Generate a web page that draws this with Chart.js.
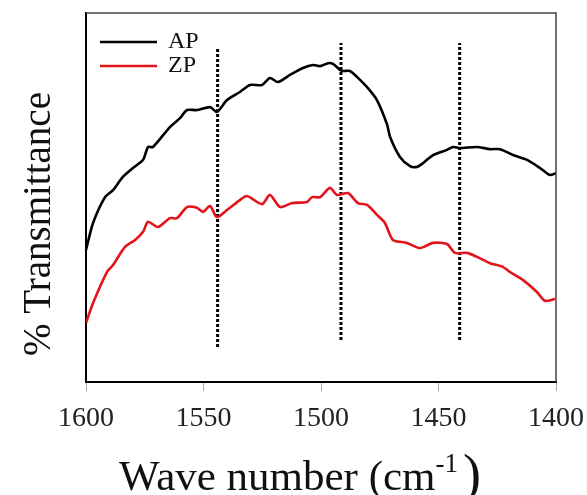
<!DOCTYPE html>
<html>
<head>
<meta charset="utf-8">
<script src="https://cdn.jsdelivr.net/npm/chart.js@4.4.1/dist/chart.umd.min.js"></script>
<style>
  html, body { margin: 0; padding: 0; background: #fff; }
  #wrap { width: 587px; height: 495px; position: relative; }
</style>
</head>
<body>
<div id="wrap"><canvas id="ftir"></canvas></div>
<script>
// wave numbers (cm-1) and transmittance (arbitrary %, plot height = 100)
const apWave = [1600, 1597, 1591.9, 1588.5, 1584.3, 1580, 1575.7, 1573.6, 1571.5, 1564.3, 1560, 1557, 1552.8, 1547.2, 1544.3, 1540, 1534.5, 1530.2, 1525.1, 1521.7, 1518.3, 1513.2, 1507.7, 1503.4, 1500.4, 1497, 1494.9, 1491.9, 1490.6, 1487.7, 1484.7, 1480.4, 1476.2, 1471.9, 1470.6, 1466.4, 1462.1, 1459.1, 1456.6, 1452.3, 1446.4, 1443.8, 1440.9, 1433.6, 1428.1, 1423.8, 1418.3, 1412.3, 1406.8, 1402.6, 1400];
const apT = [35.8, 43.1, 50.1, 52.0, 55.6, 58.0, 60.2, 63.7, 63.7, 69.1, 71.5, 73.7, 73.7, 74.5, 73.2, 76.4, 78.6, 80.5, 80.5, 82.4, 81.3, 83.2, 85.1, 85.9, 85.6, 86.4, 86.2, 84.6, 84.3, 84.3, 82.7, 79.9, 76.4, 69.8, 66.4, 61.0, 58.5, 58.3, 59.3, 61.5, 62.9, 63.7, 63.4, 63.7, 63.1, 63.1, 61.5, 60.2, 58.0, 56.1, 56.6];

const zpWave = [1600, 1597, 1591.1, 1588.5, 1583.4, 1579.1, 1575.7, 1573.6, 1569.4, 1564.3, 1561.3, 1557, 1552.8, 1550.2, 1547.2, 1544.3, 1540, 1534.5, 1531.5, 1525.1, 1521.7, 1517.4, 1512.3, 1506, 1503.8, 1500.4, 1496.2, 1493.2, 1488.5, 1484.3, 1480.4, 1476.2, 1472.8, 1469.4, 1463.4, 1457.9, 1452.3, 1446.4, 1443, 1437.9, 1433.6, 1428.1, 1422.6, 1419.6, 1414, 1408.1, 1404.7, 1400.4];
const zpT = [16.0, 21.4, 29.8, 31.7, 36.6, 38.5, 40.7, 43.4, 42.0, 44.4, 44.4, 47.4, 47.2, 46.1, 47.7, 44.7, 46.6, 49.3, 50.4, 48.2, 50.7, 47.4, 48.5, 48.8, 50.1, 50.1, 52.6, 50.7, 51.2, 48.5, 48.0, 45.3, 43.1, 38.5, 37.7, 36.3, 37.7, 37.4, 35.0, 35.0, 33.9, 32.2, 31.2, 29.8, 27.6, 24.4, 22.0, 22.5];

// dotted marker lines
const markerWave = [1544, 1491.5, 1441];
const markerTop = [90.5, 91.9, 91.9];
const markerBottom = [9.5, 11.4, 11.4];

const xTicks = [1600, 1550, 1500, 1450, 1400];

const SERIF = "'Liberation Serif', 'Times New Roman', serif";
const RED = '#e3141b';

function toPoints(xs, ys) {
    return xs.map((x, i) => ({ x: x, y: ys[i] }));
}

const datasets = [
    {
        label: 'AP', data: toPoints(apWave, apT),
        borderColor: '#000', borderWidth: 2.6, pointRadius: 0, tension: 0.25
    },
    {
        label: 'ZP', data: toPoints(zpWave, zpT),
        borderColor: RED, borderWidth: 2.6, pointRadius: 0, tension: 0.25
    }
];
markerWave.forEach((w, i) => {
    datasets.push({
        label: 'marker', data: [{ x: w, y: markerBottom[i] }, { x: w, y: markerTop[i] }],
        borderColor: '#000', borderWidth: 3, borderDash: [3, 2], pointRadius: 0, borderCapStyle: 'butt'
    });
});

// frame (top/right), legend and axis titles
const decorations = {
    id: 'decorations',
    afterDraw(chart) {
        const ctx = chart.ctx;
        const a = chart.chartArea;
        ctx.save();
        ctx.strokeStyle = '#444';
        ctx.lineWidth = 1.5;
        ctx.beginPath();
        ctx.moveTo(a.left, a.top);
        ctx.lineTo(a.right, a.top);
        ctx.lineTo(a.right, a.bottom);
        ctx.stroke();

        // legend
        const items = chart.data.datasets.filter(d => d.label !== 'marker');
        items.forEach((d, i) => {
            const y = 42 + i * 24;
            ctx.strokeStyle = d.borderColor;
            ctx.lineWidth = 2.4;
            ctx.beginPath();
            ctx.moveTo(100, y);
            ctx.lineTo(157, y);
            ctx.stroke();
            ctx.fillStyle = '#111';
            ctx.font = '24px ' + SERIF;
            ctx.textBaseline = 'alphabetic';
            ctx.textAlign = 'left';
            ctx.fillText(d.label, 168, y + 6);
        });

        // y title
        ctx.save();
        ctx.translate(50, 224);
        ctx.rotate(-Math.PI / 2);
        ctx.font = '39px ' + SERIF;
        ctx.textAlign = 'center';
        ctx.textBaseline = 'alphabetic';
        ctx.fillStyle = '#111';
        ctx.fillText('% Transmittance', 0, 0);
        ctx.restore();

        // x title with superscript
        ctx.fillStyle = '#111';
        ctx.textAlign = 'left';
        ctx.textBaseline = 'alphabetic';
        let x = 119;
        const base = 490;
        ctx.font = '43px ' + SERIF;
        const t1 = 'Wave number (cm';
        ctx.fillText(t1, x, base);
        x += ctx.measureText(t1).width;
        ctx.font = '27px ' + SERIF;
        ctx.fillText('-1', x, base - 18);
        x += ctx.measureText('-1').width + 5;
        ctx.font = '54px ' + SERIF;
        ctx.fillText(')', x, base + 2);
        ctx.restore();
    }
};

new Chart(document.getElementById('ftir'), {
    type: 'line',
    data: { datasets: datasets },
    options: {
        responsive: true,
        maintainAspectRatio: false,
        animation: false,
        layout: { padding: { left: 0, right: 31, top: 13, bottom: 0 } },
        plugins: {
            legend: { display: false },
            tooltip: { enabled: false }
        },
        scales: {
            x: {
                type: 'linear',
                reverse: true,
                min: 1400,
                max: 1600,
                afterFit: (scale) => {
                    scale.height = 113;
                    scale.paddingLeft = 0;
                    scale.paddingRight = 0;
                },
                afterBuildTicks: (scale) => { scale.ticks = xTicks.map(v => ({ value: v })); },
                border: { color: '#000', width: 2 },
                grid: { display: true, drawOnChartArea: false, drawTicks: true, tickLength: 9, color: '#aaa', lineWidth: 1 },
                ticks: {
                    color: '#222',
                    padding: 11,
                    maxRotation: 0,
                    font: { family: SERIF, size: 28 },
                    callback: (v) => String(v)
                }
            },
            y: {
                min: 0,
                max: 100,
                afterFit: (scale) => {
                    scale.width = 86;
                    scale.paddingTop = 0;
                    scale.paddingBottom = 0;
                },
                border: { color: '#000', width: 2 },
                grid: { display: false },
                ticks: { display: false }
            }
        }
    },
    plugins: [decorations]
});
</script>
</body>
</html>
